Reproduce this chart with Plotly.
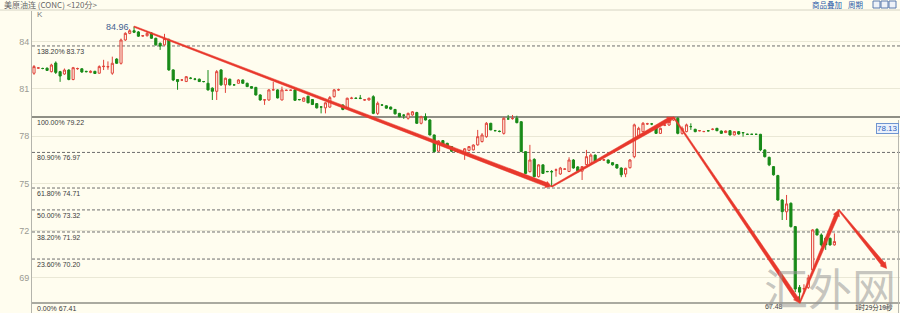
import math
import plotly.graph_objects as go

# ---------------- data (120-min candles) ----------------
opens = [
    82.00, 82.32, 82.30, 82.32, 82.10, 82.65, 82.10, 81.95, 82.20, 81.60,
    82.28, 82.28, 82.12, 82.05, 82.12, 82.00, 82.42, 82.40, 82.00, 82.90,
    82.63, 84.11, 84.53, 84.70, 84.62, 84.36, 84.38, 84.55, 84.22, 83.90,
    83.80, 84.11, 82.21, 81.60, 81.57, 81.47, 81.68, 81.63, 81.62, 81.47,
    81.36, 81.05, 80.85, 82.21, 81.26, 81.62, 81.26, 81.36, 81.57, 81.36,
    81.15, 81.10, 80.62, 80.30, 80.30, 80.94, 80.94, 80.30, 80.90, 80.92,
    80.94, 80.33, 80.22, 80.54, 80.33, 80.07, 79.86, 79.80, 79.85, 80.51,
    80.94, 79.98, 79.77, 80.40, 80.42, 80.42, 80.30, 80.30, 80.51, 79.45,
    79.98, 79.93, 79.85, 79.70, 79.45, 79.34, 79.14, 79.35, 79.50, 78.82,
    79.24, 79.03, 78.08, 77.05, 77.72, 77.55, 77.34, 77.05, 77.05, 76.92,
    77.10, 77.13, 77.45, 77.66, 77.97, 78.82, 78.36, 78.32, 78.18, 79.10,
    79.12, 79.14, 78.92, 77.02, 75.75, 76.53, 75.43, 76.18, 75.76, 75.76,
    75.85, 75.60, 75.90, 75.76, 76.49, 76.05, 75.78, 76.20, 76.28, 76.80,
    76.50, 76.49, 76.49, 76.32, 76.20, 75.98, 75.60, 76.00, 76.70, 77.97,
    78.29, 78.78, 78.78, 78.61, 78.18, 78.70, 78.71, 79.03, 79.14, 78.18,
    78.29, 78.61, 78.44, 78.35, 78.29, 78.35, 78.44, 78.50, 78.33, 78.23,
    78.35, 78.08, 78.29, 78.23, 78.12, 78.12, 78.12, 78.12, 77.13, 76.66,
    76.07, 75.50, 73.95, 73.20, 73.74, 72.26, 68.40, 68.30, 68.40, 69.51,
    72.09, 71.73, 71.52, 71.52, 71.10,
]
highs = [
    82.52, 82.38, 82.35, 82.36, 82.60, 82.75, 82.15, 82.30, 82.25, 82.40,
    82.35, 82.32, 82.15, 82.18, 82.15, 82.50, 82.85, 82.75, 83.05, 82.95,
    84.20, 84.60, 84.80, 84.96, 84.68, 84.42, 84.62, 84.60, 84.25, 83.95,
    84.50, 84.20, 82.25, 81.62, 81.62, 81.82, 81.75, 81.70, 81.66, 81.50,
    82.20, 81.10, 82.20, 82.25, 81.72, 81.65, 81.30, 81.62, 81.60, 81.40,
    81.18, 81.13, 80.66, 80.35, 81.00, 81.45, 80.98, 81.15, 80.96, 80.96,
    80.98, 80.36, 80.46, 80.57, 80.36, 80.10, 79.90, 80.15, 80.55, 81.00,
    81.02, 80.02, 80.45, 80.50, 80.46, 80.62, 80.36, 80.45, 80.60, 80.20,
    80.03, 79.96, 79.88, 79.73, 79.48, 79.40, 79.50, 79.60, 79.55, 79.30,
    79.45, 79.08, 78.10, 77.75, 77.76, 77.58, 77.37, 77.08, 77.10, 77.25,
    77.38, 77.48, 78.40, 78.20, 78.90, 78.85, 78.40, 78.36, 79.20, 79.35,
    79.35, 79.30, 78.95, 77.05, 77.45, 76.60, 76.22, 76.20, 75.80, 75.85,
    75.95, 76.05, 75.96, 76.66, 76.55, 76.10, 76.10, 77.13, 76.90, 76.84,
    76.55, 76.55, 76.52, 76.35, 76.24, 76.02, 76.00, 76.55, 78.80, 78.60,
    78.90, 78.85, 78.84, 78.65, 78.55, 78.78, 78.96, 79.22, 79.20, 78.62,
    78.80, 78.82, 78.47, 78.39, 78.34, 78.39, 78.50, 78.53, 78.36, 78.36,
    78.38, 78.32, 78.32, 78.26, 78.16, 78.15, 78.15, 78.15, 77.16, 76.70,
    76.10, 75.55, 74.00, 74.27, 73.80, 72.30, 68.55, 68.60, 69.20, 72.10,
    72.15, 71.83, 71.60, 71.56, 71.83,
]
lows = [
    81.90, 82.28, 82.25, 82.15, 82.05, 81.95, 81.45, 81.90, 81.55, 81.55,
    82.22, 82.02, 82.05, 82.00, 81.95, 81.98, 82.20, 82.22, 81.90, 82.60,
    82.55, 84.05, 84.48, 84.55, 84.30, 84.32, 84.33, 84.18, 83.75, 83.48,
    83.75, 82.15, 81.50, 80.95, 81.50, 81.44, 81.62, 81.55, 81.44, 81.42,
    80.90, 80.30, 80.30, 81.20, 80.75, 81.22, 81.22, 81.33, 81.33, 81.12,
    81.02, 80.58, 80.26, 79.99, 80.25, 80.90, 80.40, 80.28, 80.88, 80.88,
    80.25, 80.28, 80.20, 80.10, 79.98, 79.76, 79.45, 79.45, 79.80, 80.45,
    80.88, 79.65, 79.72, 80.35, 80.36, 80.35, 80.26, 80.27, 79.40, 79.35,
    79.93, 79.75, 79.68, 79.38, 79.20, 79.10, 79.05, 79.30, 78.78, 78.75,
    79.00, 78.05, 76.98, 77.00, 77.46, 77.30, 77.00, 77.00, 76.95, 76.50,
    77.05, 77.10, 77.40, 77.60, 77.90, 78.38, 78.31, 78.25, 78.10, 79.05,
    79.05, 78.82, 77.00, 75.60, 75.70, 75.40, 75.38, 75.60, 75.72, 74.80,
    75.43, 75.55, 75.86, 75.72, 75.94, 75.70, 75.22, 76.15, 76.20, 76.34,
    76.45, 76.44, 76.26, 76.14, 75.94, 75.40, 75.40, 75.95, 76.60, 77.90,
    78.25, 78.72, 78.70, 78.14, 78.14, 78.64, 78.66, 78.98, 78.12, 78.10,
    78.25, 78.40, 78.25, 78.31, 78.26, 78.31, 78.38, 78.32, 78.15, 78.20,
    78.05, 78.05, 78.10, 77.97, 78.08, 78.09, 78.09, 77.05, 76.65, 76.10,
    75.50, 73.90, 72.68, 72.68, 72.20, 68.10, 67.41, 68.00, 68.30, 69.45,
    71.70, 70.99, 70.78, 71.05, 71.05,
]
closes = [
    82.42, 82.34, 82.30, 82.18, 82.52, 82.05, 81.82, 82.20, 81.60, 82.35,
    82.30, 82.08, 82.10, 82.12, 81.98, 82.42, 82.44, 82.42, 82.63, 82.63,
    84.11, 84.53, 84.70, 84.60, 84.35, 84.38, 84.53, 84.22, 83.80, 83.72,
    84.20, 82.21, 81.57, 81.47, 81.57, 81.78, 81.68, 81.62, 81.47, 81.47,
    80.94, 80.85, 82.10, 81.26, 81.68, 81.26, 81.26, 81.57, 81.36, 81.15,
    81.05, 80.62, 80.30, 80.31, 80.94, 80.95, 80.43, 80.94, 80.92, 80.92,
    80.28, 80.32, 80.43, 80.12, 80.01, 79.80, 79.85, 80.12, 80.45, 80.94,
    80.95, 79.70, 80.41, 80.42, 80.40, 80.40, 80.31, 80.41, 79.45, 80.09,
    79.98, 79.78, 79.72, 79.42, 79.24, 79.33, 79.45, 79.55, 78.82, 79.24,
    79.03, 78.08, 77.02, 77.70, 77.50, 77.34, 77.05, 77.03, 77.05, 77.20,
    77.34, 77.44, 77.97, 78.08, 78.82, 78.40, 78.35, 78.30, 79.14, 79.10,
    79.12, 78.86, 77.02, 75.64, 76.49, 75.43, 76.18, 75.64, 75.75, 75.74,
    75.86, 75.98, 75.92, 76.49, 75.98, 75.80, 76.07, 76.70, 76.80, 76.38,
    76.49, 76.50, 76.30, 76.18, 75.98, 75.55, 75.96, 76.49, 78.72, 78.50,
    78.82, 78.79, 78.78, 78.18, 78.50, 78.71, 78.92, 79.18, 78.18, 78.50,
    78.72, 78.61, 78.29, 78.35, 78.30, 78.34, 78.44, 78.35, 78.18, 78.33,
    78.08, 78.29, 78.14, 78.22, 78.12, 78.12, 78.12, 77.13, 76.70, 76.18,
    75.55, 73.95, 73.21, 73.70, 72.26, 68.30, 68.10, 68.32, 69.00, 72.05,
    71.73, 71.10, 71.10, 71.10, 71.31,
]
bar_index = list(range(len(opens)))

ytick_vals = [69, 72, 75, 78, 81, 84]
ytick_text = ["69", "72", "75", "78", "81", "84"]

fib_pcts = ["138.20%", "100.00%", "80.90%", "61.80%", "50.00%", "38.20%", "23.60%", "0.00%"]
fib_levels = [83.73, 79.22, 76.97, 74.71, 73.32, 71.92, 70.20, 67.41]

# hand-drawn wave arrows (bar index, price)
wave_x = [23, 119, 147, 176, 185, 196]
wave_y = [84.96, 74.80, 79.22, 67.41, 73.32, 69.60]

peak_label = "84.96"
low_label = "67.48"
last_price_label = "78.13"
title_text = "美原油连 (CONC) <120分>"
countdown_text = "1时29分19秒"

# ---------------- geometry ----------------
W, H = 900, 313
ML, MT = 32, 11
PW, PH = W - ML, H - MT
XMIN, XMAX = -0.46, (W - 34) / 4.35
YMIN, YMAX = 66.775, 85.95

BG = "#FFFDEF"
RED = "#E0433A"
GREEN = "#188A18"
ARROW = "#E8382C"


def px2paper_x(px):
    return (px - ML) / PW


def px2paper_y(py):
    return (H - py) / PH


def taper_arrow(x0, y0, x1, y1, w0=1.3, w1=4.0, hl=6.0, hw=6.5):
    sx = PW / (XMAX - XMIN)
    sy = PH / (YMAX - YMIN)
    X0, Y0, X1, Y1 = x0 * sx, y0 * sy, x1 * sx, y1 * sy
    dx, dy = X1 - X0, Y1 - Y0
    L = math.hypot(dx, dy)
    ux, uy = dx / L, dy / L
    nx, ny = -uy, ux
    bx, by = X1 - ux * hl, Y1 - uy * hl
    pts = [
        (X0 + nx * w0 / 2, Y0 + ny * w0 / 2),
        (bx + nx * w1 / 2, by + ny * w1 / 2),
        (bx + nx * hw / 2, by + ny * hw / 2),
        (X1, Y1),
        (bx - nx * hw / 2, by - ny * hw / 2),
        (bx - nx * w1 / 2, by - ny * w1 / 2),
        (X0 - nx * w0 / 2, Y0 - ny * w0 / 2),
    ]
    pts.append(pts[0])
    return [p[0] / sx for p in pts], [p[1] / sy for p in pts]


fig = go.Figure()

fig.add_trace(go.Candlestick(
    x=bar_index, open=opens, high=highs, low=lows, close=closes,
    increasing=dict(line=dict(color=RED, width=1), fillcolor=BG),
    decreasing=dict(line=dict(color=GREEN, width=1), fillcolor=GREEN),
    whiskerwidth=0, showlegend=False, hoverinfo="skip",
))

for k in range(len(wave_x) - 1):
    xs, ys = taper_arrow(wave_x[k], wave_y[k], wave_x[k + 1], wave_y[k + 1])
    fig.add_trace(go.Scatter(
        x=xs, y=ys, mode="lines", fill="toself", fillcolor=ARROW,
        line=dict(color=ARROW, width=0.5), showlegend=False, hoverinfo="skip",
    ))

shapes = []
annotations = []

# fibonacci levels
for pct, lvl in zip(fib_pcts, fib_levels):
    if pct == "100.00%":
        ln = dict(color="#6A6A62", width=1.5)
    elif pct == "0.00%":
        ln = dict(color="#8E8E86", width=1.6)
    else:
        ln = dict(color="#6E6E6E", width=1, dash="3px,2px")
    shapes.append(dict(type="line", xref="paper", yref="y", x0=0, x1=1,
                       y0=lvl, y1=lvl, line=ln, layer="below"))
    annotations.append(dict(
        xref="paper", yref="y", x=px2paper_x(35), y=lvl, text=f"{pct} {lvl:.2f}",
        showarrow=False, xanchor="left", yanchor="top", yshift=0,
        font=dict(family="Liberation Sans", size=7, color="#3A3A3A"),
    ))

# title bar separator
shapes.append(dict(type="line", xref="paper", yref="paper",
                   x0=px2paper_x(0), x1=px2paper_x(900),
                   y0=px2paper_y(10), y1=px2paper_y(10),
                   line=dict(color="#D6D4C4", width=1)))
# right border
shapes.append(dict(type="line", xref="paper", yref="paper",
                   x0=px2paper_x(898.5), x1=px2paper_x(898.5),
                   y0=px2paper_y(120), y1=px2paper_y(313),
                   line=dict(color="#B8B8B0", width=1)))
# small window icons top right
for bx0 in (873, 881, 889):
    shapes.append(dict(type="rect", xref="paper", yref="paper",
                       x0=px2paper_x(bx0), x1=px2paper_x(bx0 + 7),
                       y0=px2paper_y(8), y1=px2paper_y(1),
                       line=dict(color="#5A7AAE", width=1), fillcolor="#EEF2F8"))

annotations += [
    dict(xref="paper", yref="paper", x=px2paper_x(2), y=px2paper_y(5),
         text=title_text, showarrow=False, xanchor="left", yanchor="middle",
         font=dict(family="Noto Sans CJK SC", size=8, color="#666666")),
    dict(xref="paper", yref="paper", x=px2paper_x(810), y=px2paper_y(5),
         text="商品叠加", showarrow=False, xanchor="left", yanchor="middle",
         font=dict(family="Noto Sans CJK SC", size=7.5, color="#2A5AA8")),
    dict(xref="paper", yref="paper", x=px2paper_x(846), y=px2paper_y(5),
         text="周期", showarrow=False, xanchor="left", yanchor="middle",
         font=dict(family="Noto Sans CJK SC", size=7.5, color="#2A5AA8")),
    dict(xref="paper", yref="paper", x=px2paper_x(35), y=px2paper_y(15),
         text="K", showarrow=False, xanchor="left", yanchor="middle",
         font=dict(family="Liberation Sans", size=8, color="#777777")),
    dict(xref="x", yref="y", x=wave_x[0], y=wave_y[0], text=peak_label,
         showarrow=False, xanchor="right", yanchor="middle", xshift=-3,
         font=dict(family="Liberation Sans", size=9, color="#44628F")),
    dict(xref="x", yref="y", x=wave_x[3], y=wave_y[3], text=low_label,
         showarrow=False, xanchor="right", yanchor="middle", xshift=-15, yshift=-3,
         font=dict(family="Liberation Sans", size=7, color="#444444")),
    dict(xref="paper", yref="y", x=1, y=78.13, text=last_price_label,
         showarrow=False, xanchor="right", yanchor="bottom", xshift=-1,
         bgcolor="#EAF1FB", bordercolor="#6F95D0", borderwidth=1, borderpad=0,
         font=dict(family="Liberation Sans", size=8, color="#2E62C0")),
    dict(xref="paper", yref="paper", x=px2paper_x(895), y=px2paper_y(307),
         text=countdown_text, showarrow=False, xanchor="right", yanchor="middle",
         font=dict(family="Noto Sans CJK SC", size=6.5, color="#333333")),
    dict(xref="paper", yref="paper", x=px2paper_x(762), y=px2paper_y(253),
         text="汇外网", showarrow=False, xanchor="left", yanchor="top",
         font=dict(family="Noto Sans CJK SC", size=44, color="rgba(150,150,150,0.55)")),
]

fig.update_layout(
    width=W, height=H,
    margin=dict(l=ML, r=0, t=MT, b=0, pad=0),
    paper_bgcolor=BG, plot_bgcolor=BG,
    shapes=shapes, annotations=annotations,
    showlegend=False,
    xaxis=dict(range=[XMIN, XMAX], showgrid=False, zeroline=False,
               showticklabels=False, ticks="", rangeslider=dict(visible=False),
               showline=False, fixedrange=True),
    yaxis=dict(range=[YMIN, YMAX], tickvals=ytick_vals, ticktext=ytick_text,
               showgrid=True, gridcolor="#EAE8D6", gridwidth=1, zeroline=False,
               showline=True, linecolor="#B4B4AC", linewidth=1, ticks="",
               tickfont=dict(family="Liberation Sans", size=9, color="#9A9A92"),
               fixedrange=True),
)

fig.write_html("out.html")
